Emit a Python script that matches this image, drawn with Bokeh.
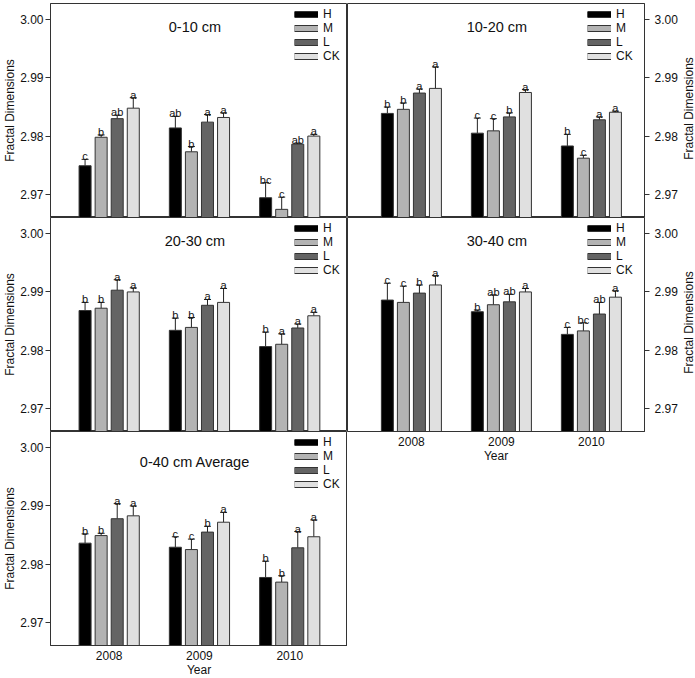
import math
from bokeh.plotting import figure
from bokeh.models import (ColumnDataSource, Whisker, TeeHead, Range1d, FixedTicker,
                          PrintfTickFormatter, Legend, LegendItem, Label)
from bokeh.layouts import row, column
from bokeh.embed import file_html
from bokeh.resources import INLINE
from bokeh.core.properties import value

years = ["2008", "2009", "2010"]
treatments = ["H", "M", "L", "CK"]
colors = ["#000000", "#b3b3b3", "#646464", "#e0e0e0"]
titles = ["0-10 cm", "10-20 cm", "20-30 cm", "30-40 cm", "0-40 cm Average"]
y_title = "Fractal Dimensions"
x_title = "Year"

# ---- 0-10 cm ----
mean_0_10 = {"H": [2.9749, 2.9814, 2.9694], "M": [2.9798, 2.9773, 2.9674],
             "L": [2.9830, 2.9824, 2.9786], "CK": [2.9848, 2.9832, 2.9800]}
err_0_10 = {"H": [0.0011, 0.0020, 0.0026], "M": [0.0004, 0.0009, 0.0021],
            "L": [0.0006, 0.0013, 0.0002], "CK": [0.0018, 0.0008, 0.0003]}
sig_0_10 = {"H": ["c", "ab", "bc"], "M": ["b", "b", "c"],
            "L": ["ab", "a", "ab"], "CK": ["a", "a", "a"]}

# ---- 10-20 cm ----
mean_10_20 = {"H": [2.9839, 2.9805, 2.9783], "M": [2.9846, 2.9809, 2.9762],
              "L": [2.9874, 2.9833, 2.9828], "CK": [2.9882, 2.9875, 2.9841]}
err_10_20 = {"H": [0.0011, 0.0026, 0.0020], "M": [0.0011, 0.0021, 0.0005],
             "L": [0.0007, 0.0007, 0.0005], "CK": [0.0037, 0.0005, 0.0002]}
sig_10_20 = {"H": ["b", "c", "b"], "M": ["b", "c", "c"],
             "L": ["a", "b", "a"], "CK": ["a", "a", "a"]}

# ---- 20-30 cm ----
mean_20_30 = {"H": [2.9868, 2.9834, 2.9806], "M": [2.9872, 2.9839, 2.9810],
              "L": [2.9903, 2.9877, 2.9838], "CK": [2.9900, 2.9882, 2.9859]}
err_20_30 = {"H": [0.0014, 0.0021, 0.0025], "M": [0.0010, 0.0017, 0.0018],
             "L": [0.0018, 0.0010, 0.0007], "CK": [0.0007, 0.0024, 0.0006]}
sig_20_30 = {"H": ["b", "b", "b"], "M": ["b", "b", "a"],
             "L": ["a", "a", "a"], "CK": ["a", "a", "a"]}

# ---- 30-40 cm ----
mean_30_40 = {"H": [2.9886, 2.9866, 2.9827], "M": [2.9882, 2.9878, 2.9833],
              "L": [2.9898, 2.9883, 2.9862], "CK": [2.9912, 2.9900, 2.9891]}
err_30_40 = {"H": [0.0029, 0.0003, 0.0012], "M": [0.0028, 0.0017, 0.0014],
             "L": [0.0014, 0.0013, 0.0020], "CK": [0.0016, 0.0006, 0.0011]}
sig_30_40 = {"H": ["c", "b", "c"], "M": ["c", "ab", "bc"],
             "L": ["b", "ab", "ab"], "CK": ["a", "a", "a"]}

# ---- 0-40 cm average ----
mean_avg = {"H": [2.9836, 2.9829, 2.9777], "M": [2.9849, 2.9825, 2.9769],
            "L": [2.9878, 2.9855, 2.9828], "CK": [2.9883, 2.9872, 2.9847]}
err_avg = {"H": [0.0016, 0.0018, 0.0028], "M": [0.0004, 0.0018, 0.0011],
           "L": [0.0026, 0.0010, 0.0028], "CK": [0.0017, 0.0017, 0.0029]}
sig_avg = {"H": ["b", "c", "b"], "M": ["b", "c", "b"],
           "L": ["a", "b", "a"], "CK": ["a", "a", "a"]}

y_ticks = [2.97, 2.98, 2.99, 3.00]

FONT = "Liberation Sans"
FRAME_W = 297
FRAME_H = 214
TOP = 3
EDGE = "#333333"
TXT = "#111111"
STEP = 0.178
BAR_W = 0.133
Y0, Y1 = 2.966, 3.0028


def style_axis_label(ax):
    ax.axis_label_text_font = FONT
    ax.axis_label_text_font_size = "12px"
    ax.axis_label_text_font_style = "normal"
    ax.axis_label_text_color = TXT


def make_panel(title, means, errs, sigs, side, show_x, top_row, title_y):
    xr = Range1d(-0.65, 2.64) if side == "left" else Range1d(-0.71, 2.59)
    p = figure(frame_width=FRAME_W, frame_height=FRAME_H,
               x_range=xr, y_range=Range1d(Y0, Y1),
               output_backend="svg", toolbar_location=None,
               x_axis_location="below" if show_x else None,
               y_axis_location=side,
               min_border_left=49 if side == "left" else 0,
               min_border_right=36 if side == "right" else 0,
               min_border_top=TOP if top_row else 0, min_border_bottom=0)
    p.outline_line_color = EDGE
    p.outline_line_width = 1
    p.xgrid.visible = False
    p.ygrid.visible = False

    ax = p.yaxis[0]
    ax.ticker = FixedTicker(ticks=y_ticks)
    ax.formatter = PrintfTickFormatter(format="%.2f")
    ax.major_tick_out = 5
    ax.major_tick_in = 0
    ax.minor_tick_line_color = None
    ax.major_tick_line_color = EDGE
    ax.axis_line_color = EDGE
    ax.major_label_standoff = 5 if side == "right" else 2
    ax.major_label_text_font = FONT
    ax.major_label_text_font_size = "12px"
    ax.major_label_text_color = TXT
    if side == "left":
        ax.axis_label = y_title
        ax.axis_label_standoff = 0
        style_axis_label(ax)

    if show_x:
        xa = p.xaxis[0]
        xa.ticker = FixedTicker(ticks=[0, 1, 2])
        xa.major_label_overrides = {0: years[0], 1: years[1], 2: years[2]}
        xa.major_tick_line_color = None
        xa.minor_tick_line_color = None
        xa.major_tick_out = 0
        xa.major_tick_in = 0
        xa.axis_line_color = EDGE
        xa.major_label_standoff = 5
        xa.major_label_text_font = FONT
        xa.major_label_text_font_size = "12px"
        xa.major_label_text_color = TXT
        xa.axis_label = x_title
        xa.axis_label_standoff = 0
        style_axis_label(xa)

    items = []
    for k, (t, c) in enumerate(zip(treatments, colors)):
        off = (k - 1.5) * STEP
        xs = [i + off for i in range(len(years))]
        tops = means[t]
        uppers = [m + e for m, e in zip(tops, errs[t])]
        src = ColumnDataSource(dict(x=xs, top=tops, upper=uppers, sig=sigs[t]))
        p.vbar(x="x", top="top", bottom=2.9, width=BAR_W, source=src,
               fill_color=c, line_color=EDGE, line_width=1)
        w = Whisker(base="x", lower="top", upper="upper", source=src,
                    dimension="height", line_color="#222222", line_width=1,
                    upper_head=TeeHead(size=7, line_color="#222222", line_width=1),
                    lower_head=None)
        p.add_layout(w)
        p.text(x="x", y="upper", text="sig", source=src,
               text_font=value(FONT), text_font_size="11px",
               text_align="center", text_baseline="alphabetic",
               y_offset=-3, text_color=TXT)
        # legend proxies: lines along the bar bottoms, below the visible range
        outer = p.line(x="x", y=2.9, source=src, line_color=EDGE, line_width=7)
        inner = p.line(x="x", y=2.9, source=src, line_color=c, line_width=5)
        items.append(LegendItem(label=t, renderers=[outer, inner]))

    leg = Legend(items=items, location="top_right",
                 glyph_width=24, glyph_height=14, label_height=14,
                 label_width=20 if side == "left" else 24,
                 spacing=0, padding=0, margin=4, label_standoff=5,
                 label_text_font=FONT, label_text_font_size="12px",
                 label_text_color=TXT,
                 border_line_color=None, background_fill_alpha=0)
    p.add_layout(leg)

    p.add_layout(Label(x=0.95, y=title_y, text=title, text_align="center",
                       text_baseline="middle", text_font=FONT,
                       text_font_size="14.5px", text_color=TXT))
    return p


f1 = make_panel(titles[0], mean_0_10, err_0_10, sig_0_10, "left", False, True, 2.9988)
f2 = make_panel(titles[1], mean_10_20, err_10_20, sig_10_20, "right", False, True, 2.9988)
f3 = make_panel(titles[2], mean_20_30, err_20_30, sig_20_30, "left", False, False, 2.9987)
f4 = make_panel(titles[3], mean_30_40, err_30_40, sig_30_40, "right", True, False, 2.9987)
f5 = make_panel(titles[4], mean_avg, err_avg, sig_avg, "left", True, False, 2.9976)

# narrow strip holding the right-hand y-axis titles (reading bottom-to-top)
strip_h = TOP + 2 * FRAME_H
strip = figure(frame_width=16, frame_height=strip_h,
               x_range=Range1d(0, 1), y_range=Range1d(strip_h, 0),
               x_axis_location=None, y_axis_location=None,
               output_backend="svg", toolbar_location=None,
               min_border_left=0, min_border_right=0,
               min_border_top=0, min_border_bottom=0)
strip.outline_line_color = None
strip.xgrid.visible = False
strip.ygrid.visible = False
for r in range(2):
    strip.add_layout(Label(x=0.55, y=TOP + FRAME_H * r + FRAME_H / 2 - 2,
                           text=y_title, angle=math.pi / 2,
                           text_align="center", text_baseline="middle",
                           text_font=FONT, text_font_size="12px",
                           text_color=TXT))

layout = row(column(f1, f3, f5, spacing=0), column(f2, f4, spacing=0), strip,
             spacing=0)

open("out.html", "w").write(file_html(layout, INLINE))
